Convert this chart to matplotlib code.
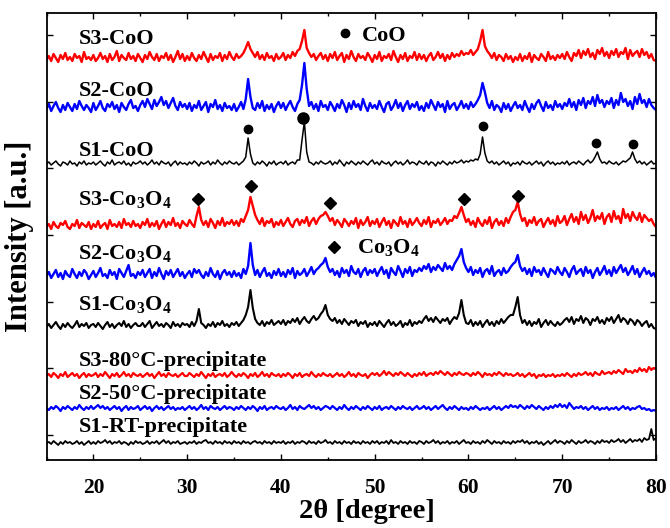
import matplotlib
matplotlib.use("Agg")
import matplotlib.pyplot as plt
import numpy as np

plt.rcParams['font.family'] = ['Liberation Serif', 'DejaVu Serif']
plt.rcParams['font.weight'] = 'bold'
plt.rcParams['mathtext.fontset'] = 'custom'
plt.rcParams['mathtext.rm'] = 'Liberation Serif:bold'
plt.rcParams['mathtext.bf'] = 'Liberation Serif:bold'
plt.rcParams['mathtext.it'] = 'Liberation Serif:bold:italic'
plt.rcParams['mathtext.default'] = 'rm'

# 2theta grid: 15..80 deg, 0.25 deg step (20 points per 5 deg row)
two_theta_start = 15.0
two_theta_step = 0.25

# intensities (a.u.), above each curve's offset
s3_coo = [3,7,2,9,5, 1,8,4,10,3, 6,2,9,5,7, 1,11,4,6,3,
          8,2,5,10,4, 7,1,9,3,6, 12,2,8,5,3, 10,4,7,2,9,
          5,1,8,4,11, 6,3,9,2,7, 5,10,3,8,1, 6,12,4,9,2,
          7,3,10,5,2, 8,4,11,6,1, 9,3,7,5,10, 2,8,4,11,6,
          3,9,5,7,10, 15,21,14,10,6, 11,4,8,3,10, 5,7,2,9,4,
          6,10,3,8,5, 11,7,12,14,22, 33,15,10,6,9, 3,7,10,4,8,
          2,9,5,11,3, 7,10,1,8,4, 12,6,2,9,5, 7,3,10,6,1,
          8,4,11,2,7, 5,9,3,12,6, 1,8,4,10,2, 7,5,11,3,9,
          4,8,2,7,10, 3,6,11,5,9, 2,8,4,10,6, 9,7,12,8,10,
          9,13,8,11,14, 22,33,17,12,9, 5,10,3,8,6, 2,9,4,7,1,
          6,3,9,2,7, 4,10,1,8,5, 3,9,6,2,11, 4,7,3,8,5,
          9,4,11,6,2, 10,7,13,5,12, 8,14,6,10,4, 13,9,15,7,11,
          5,12,8,14,6, 11,9,15,4,13, 7,10,12,6,14, 8,11,5,9,3,
          2]

s2_coo = [4,9,2,7,11, 5,1,8,3,10, 6,2,9,4,12, 7,3,8,5,1,
          10,3,7,12,5, 2,9,6,11,4, 8,1,10,6,3, 9,13,5,7,2,
          8,12,6,14,9, 4,13,7,11,16, 8,12,5,10,15, 7,3,11,6,9,
          4,10,2,8,5, 12,3,7,11,1, 9,6,13,4,8, 2,10,5,7,3,
          9,2,6,11,4, 14,34,16,5,3, 10,5,12,2,8, 4,9,1,7,11,
          5,10,3,8,12, 6,2,9,13,28, 50,24,7,11,4, 9,2,12,6,8,
          3,11,7,2,9, 5,13,8,1,10, 4,12,6,9,3, 14,7,2,10,5,
          8,4,12,6,1, 9,11,3,7,13, 5,10,2,8,12, 4,9,6,11,3,
          7,2,10,5,13, 8,3,11,6,9, 1,12,4,8,10, 3,7,12,5,9,
          4,11,6,9,13, 18,30,21,10,5, 12,3,8,6,1, 10,4,9,2,7,
          11,5,8,3,12, 6,1,9,4,10, 13,7,2,11,5, 8,3,12,6,9,
          4,10,7,14,6, 11,3,13,8,15, 5,12,9,16,7, 18,10,13,6,12,
          9,15,5,13,8, 20,11,14,7,12, 4,16,9,19,10, 13,6,14,8,5,
          3]

s1_coo = [2,4,1,3,5, 2,0,4,3,1, 5,2,3,0,4, 2,5,1,3,2,
          4,1,3,5,2, 0,4,2,6,1, 3,4,2,5,1, 3,0,4,2,3,
          5,2,4,1,3, 6,2,4,1,5, 3,2,4,0,3, 5,1,4,2,3,
          1,4,2,5,3, 0,4,2,3,5, 1,4,2,6,3, 1,4,2,5,3,
          2,4,1,3,5, 9,28,12,3,1, 4,2,5,3,0, 4,2,5,1,3,
          4,2,5,1,3, 4,2,6,6,26, 44,14,4,3,1, 4,2,5,3,2,
          3,5,1,4,2, 6,3,0,4,2, 5,3,1,4,2, 5,3,1,4,6,
          2,4,1,5,3, 2,4,0,3,5, 2,4,1,3,6, 2,4,3,1,5,
          3,2,5,1,4, 3,0,4,2,5, 3,1,4,2,5, 3,4,6,3,5,
          4,6,5,7,6, 12,29,13,5,3, 5,2,4,1,3, 5,2,4,0,3,
          2,4,1,5,3, 2,4,1,3,5, 2,4,0,3,5, 2,4,1,3,2,
          4,2,5,1,3, 4,2,5,3,1, 4,6,3,5,9, 14,7,3,4,2,
          5,3,2,4,1, 3,5,4,6,8, 14,7,3,5,2, 4,1,3,5,2,
          3]

s3_co3o4 = [3,6,1,8,4, 2,7,5,9,3, 1,6,4,10,2, 7,5,3,8,1,
            6,3,9,2,5, 7,1,10,4,6, 3,8,2,11,5, 7,3,9,4,6,
            2,8,5,11,3, 7,4,9,1,6, 10,3,8,5,12, 4,7,2,9,6,
            4,10,6,3,14, 23,10,5,9,3, 11,7,2,9,5, 12,4,8,6,10,
            5,9,4,11,8, 14,20,33,24,15, 10,6,12,4,9, 7,11,3,8,5,
            10,4,8,12,6, 3,9,11,5,10, 7,13,4,9,12, 6,11,14,15,18,
            14,9,12,5,10, 7,3,11,8,4, 9,6,12,2,10, 5,8,13,4,9,
            6,11,3,8,12, 5,9,2,10,7, 4,13,6,9,3, 11,5,8,12,7,
            4,10,6,13,3, 9,7,11,5,8, 12,6,10,9,14, 12,17,23,15,8,
            11,5,9,3,12, 7,4,10,6,13, 2,8,11,5,9, 4,12,7,13,18,
            20,28,16,9,12, 4,10,7,13,5, 9,11,3,8,12, 6,10,4,14,7,
            9,14,5,11,16, 8,13,6,18,10, 15,7,12,20,9, 14,11,17,6,13,
            16,8,19,11,14, 7,21,12,16,9, 18,13,10,17,8, 15,12,9,11,6,
            3]

s2_co3o4 = [4,8,2,6,10, 3,7,1,9,5, 3,11,6,2,8, 4,10,7,1,5,
            9,3,7,12,4, 6,2,10,5,8, 1,11,7,3,9, 15,4,6,2,8,
            5,10,3,7,11, 2,8,4,12,6, 1,9,5,10,3, 7,11,4,8,2,
            6,9,3,11,7, 10,5,2,8,4, 12,6,3,9,1, 7,10,5,8,3,
            9,4,7,2,11, 6,14,37,15,5, 10,3,8,12,4, 7,2,9,5,11,
            4,8,3,10,6, 12,2,9,5,7, 11,4,8,13,6, 10,12,15,17,22,
            13,8,11,5,9, 3,12,7,10,4, 14,8,6,11,3, 9,12,5,10,7,
            11,4,9,13,6, 10,2,12,8,5, 14,9,3,11,7, 13,4,10,8,12,
            9,14,11,16,8, 13,10,15,12,9, 17,11,14,10,16, 20,24,31,18,12,
            8,13,5,10,7, 12,3,9,11,6, 14,4,8,10,5, 12,7,9,13,16,
            18,25,14,9,12, 6,11,4,13,8, 10,5,12,7,3, 11,9,6,13,8,
            5,12,8,3,10, 14,6,9,11,4, 13,7,10,2,8, 12,5,9,14,6,
            10,4,13,7,11, 15,8,12,5,9, 14,6,11,3,8, 12,6,9,4,7,
            2]

s1_co3o4 = [2,5,1,4,7, 3,0,5,2,6, 3,1,4,8,2, 5,3,6,1,4,
            5,2,6,3,0, 4,7,2,5,1, 4,6,3,8,2, 5,1,4,6,3,
            3,6,2,5,8, 1,4,7,3,5, 2,6,4,1,7, 3,5,2,6,4,
            5,2,7,3,8, 20,6,4,1,5, 3,7,2,6,4, 8,3,5,2,6,
            4,7,3,6,9, 14,22,39,21,10, 6,4,8,3,7, 5,9,4,6,8,
            5,9,4,8,6, 10,7,11,5,9, 12,8,6,10,13, 9,11,15,18,24,
            14,10,8,11,6, 9,5,10,7,4, 8,6,9,3,7, 5,8,2,6,4,
            7,3,8,5,2, 6,9,4,7,3, 5,8,2,6,4, 9,3,7,5,8,
            6,10,13,8,11, 7,12,9,6,10, 8,11,5,9,12, 10,16,29,14,6,
            5,9,3,7,4, 8,2,6,9,4, 7,3,8,5,10, 6,9,12,14,14,
            22,32,14,6,9, 4,8,3,7,5, 10,2,6,9,4, 8,5,3,7,4,
            6,9,11,7,12, 5,10,8,13,6, 11,9,4,10,8, 12,6,9,5,11,
            8,12,6,10,14, 7,11,9,5,10, 8,4,9,7,3, 6,8,2,5,1,
            0]

s3_80c = [2,4,1,5,3, 0,4,2,6,1, 3,5,2,4,0, 3,5,1,4,2,
          3,5,1,4,2, 6,3,0,4,2, 5,1,3,6,2, 4,1,5,3,2,
          4,1,3,5,2, 4,0,3,6,2, 4,1,5,3,2, 4,1,3,5,2,
          2,5,3,1,4, 2,6,3,0,4, 2,5,1,3,4, 2,5,1,3,6,
          3,1,4,2,5, 3,0,4,2,5, 1,3,6,2,4, 1,5,3,2,4,
          1,4,2,5,3, 0,4,2,5,1, 3,4,2,6,3, 1,4,2,5,3,
          2,4,1,3,5, 2,4,1,3,6, 2,4,1,5,3, 2,4,0,3,5,
          3,5,2,4,7, 3,6,4,2,5, 3,6,4,2,5, 3,1,4,2,5,
          3,6,2,4,5, 3,6,4,7,5, 3,6,4,2,5, 3,6,4,3,5,
          4,2,5,3,6, 4,1,5,3,4, 2,5,3,6,4, 2,5,3,4,2,
          3,5,2,4,1, 3,5,2,4,0, 3,2,4,1,3, 2,4,1,3,2,
          4,2,5,3,1, 4,2,5,3,4, 6,3,5,2,6, 4,3,7,4,5,
          6,4,7,5,8, 6,4,9,6,7, 5,8,6,10,7, 9,6,11,8,10,
          9]

s2_50c = [3,1,4,2,5, 3,0,4,2,5, 3,1,4,2,6, 3,1,4,2,5,
          2,4,6,3,5, 2,4,1,3,5, 2,4,0,3,5, 1,4,2,3,5,
          1,3,5,2,4, 0,3,5,2,4, 1,3,5,2,4, 1,3,2,4,1,
          3,5,2,4,1, 3,6,2,4,1, 5,3,2,4,1, 3,5,2,4,3,
          1,4,2,5,3, 1,4,2,5,3, 0,4,2,5,1, 3,4,2,5,3,
          2,4,1,3,6, 2,4,1,5,3, 2,4,6,3,5, 2,4,1,3,5,
          4,2,5,3,1, 4,2,6,3,1, 4,2,5,3,1, 4,2,5,3,1,
          4,2,5,1,3, 4,2,5,3,1, 4,2,5,3,2, 4,1,3,5,2,
          3,5,2,4,1, 3,5,2,4,6, 3,1,4,2,5, 3,1,4,2,3,
          1,4,2,5,3, 1,3,2,4,1, 3,5,2,4,1, 3,5,3,6,4,
          5,3,6,4,2, 5,3,6,4,2, 5,3,1,4,2, 5,3,6,4,7,
          4,6,3,8,5, 2,4,3,5,2, 4,1,3,5,2, 4,1,3,2,4,
          1,3,2,4,1, 3,5,2,4,1, 3,2,4,5,2, 3,1,2,0,1,
          0]

s1_rt = [2,3,1,4,2, 0,3,1,4,2, 3,1,2,4,1, 3,0,2,4,1,
         3,1,4,2,3, 5,2,4,1,3, 2,4,1,3,2, 0,3,1,4,2,
         3,1,2,4,1, 3,2,4,1,3, 5,2,4,1,3, 2,4,1,2,3,
         1,3,2,4,1, 3,2,4,5,2, 3,1,4,2,3, 1,4,2,3,1,
         4,2,3,1,4, 2,3,1,3,4, 2,3,1,4,2, 3,1,4,2,3,
         2,4,1,3,2, 4,1,3,2,4, 3,1,4,2,3, 1,4,2,3,5,
         2,3,1,4,2, 3,1,4,2,3, 1,4,2,3,1, 4,2,3,1,4,
         2,4,1,3,2, 4,1,5,2,3, 1,4,2,3,1, 4,2,3,1,4,
         3,1,4,2,3, 5,2,4,1,3, 2,4,1,3,2, 4,1,3,5,2,
         3,1,4,2,3, 1,4,2,5,3, 1,4,2,3,1, 4,2,3,1,4,
         2,4,3,5,2, 4,1,3,2,4, 1,3,0,2,4, 1,3,5,2,4,
         3,1,4,2,5, 3,1,4,2,3, 5,2,4,3,1, 4,2,5,3,4,
         2,5,3,4,6, 3,5,2,4,6, 3,5,4,6,3, 7,5,6,16,5,
         7]

series = [s3_coo, s2_coo, s1_coo, s3_co3o4, s2_co3o4, s1_co3o4,
          s3_80c, s2_50c, s1_rt]
offsets = [397, 347, 294, 230, 180, 131, 82, 49, 15]
colors = ['#ff0000', '#0000ff', 'black'] * 3
widths = [1.7, 1.7, 1.1, 1.7, 1.7, 1.5, 1.6, 1.6, 1.3]
labels = ['S3-CoO', 'S2-CoO', 'S1-CoO',
          'S3-Co$_3$O$_4$', 'S2-Co$_3$O$_4$', 'S1-Co$_3$O$_4$',
          'S3-80\u00b0C-precipitate', 'S2-50\u00b0C-precipitate', 'S1-RT-precipitate']
label_y = [416, 364, 304, 255, 201, 150, 94, 61, 28]

# peak markers
coo_x = [36.5, 42.4, 61.5, 73.65, 77.6]
coo_y = [331, 342, 334, 317, 316]
coo_size = [6, 8, 6, 6, 6]
co3o4_x = [31.2, 36.8, 45.2, 59.5, 65.3]
co3o4_y = [261, 274, 257, 261, 264]

fig = plt.figure(figsize=(6.7, 5.28), dpi=100)
ax = fig.add_axes([46.5/670, 68/528, 609.5/670, 447/528])

for vals, off, col, w in zip(series, offsets, colors, widths):
    v = np.array(vals, dtype=float)
    x = two_theta_start + two_theta_step*np.arange(len(v))
    ax.plot(x, v + off, color=col, lw=w)

for lab, ly in zip(labels, label_y):
    ax.text(18.4, ly, lab, fontsize=16, fontweight='bold', ha='left', va='baseline')

for cx, cy, cs in zip(coo_x, coo_y, coo_size):
    ax.plot(cx, cy, 'o', color='black', ms=cs)
ax.plot(co3o4_x, co3o4_y, 'D', color='black', ms=6.5, ls='none')

# in-plot legends
ax.plot(46.8, 427, 'o', color='black', ms=6)
ax.text(48.6, 419, 'CoO', fontsize=16, fontweight='bold', va='baseline')
ax.plot(45.7, 213, 'D', color='black', ms=6.5)
ax.text(48.1, 207, 'Co$_3$O$_4$', fontsize=16, fontweight='bold', va='baseline')

ax.set_xlim(15, 80)
ax.set_ylim(0, 447)
ax.set_xticks(np.arange(20, 81, 10))
ax.set_xticks(np.arange(15, 81, 5), minor=True)
ax.set_yticks(np.arange(25, 447, 66.67))
ax.set_yticklabels([])
ax.tick_params(direction='in', top=True, right=True, which='both', width=1.0)
ax.tick_params(which='major', length=4.5, labelsize=15.5, pad=13)
ax.tick_params(which='minor', length=2.5)
for lbl in ax.get_xticklabels():
    lbl.set_fontweight('bold')
for sp in ax.spines.values():
    sp.set_linewidth(1.3)

ax.set_xlabel('2\u03b8 [degree]', fontsize=20.5, fontweight='bold')
ax.xaxis.set_label_coords((367-46.5)/609.5, -0.088)
ax.set_ylabel('Intensity [a.u.]', fontsize=22, fontweight='bold')
ax.yaxis.set_label_coords(-0.0205, 0.5)

fig.savefig('out.png', dpi=100)
